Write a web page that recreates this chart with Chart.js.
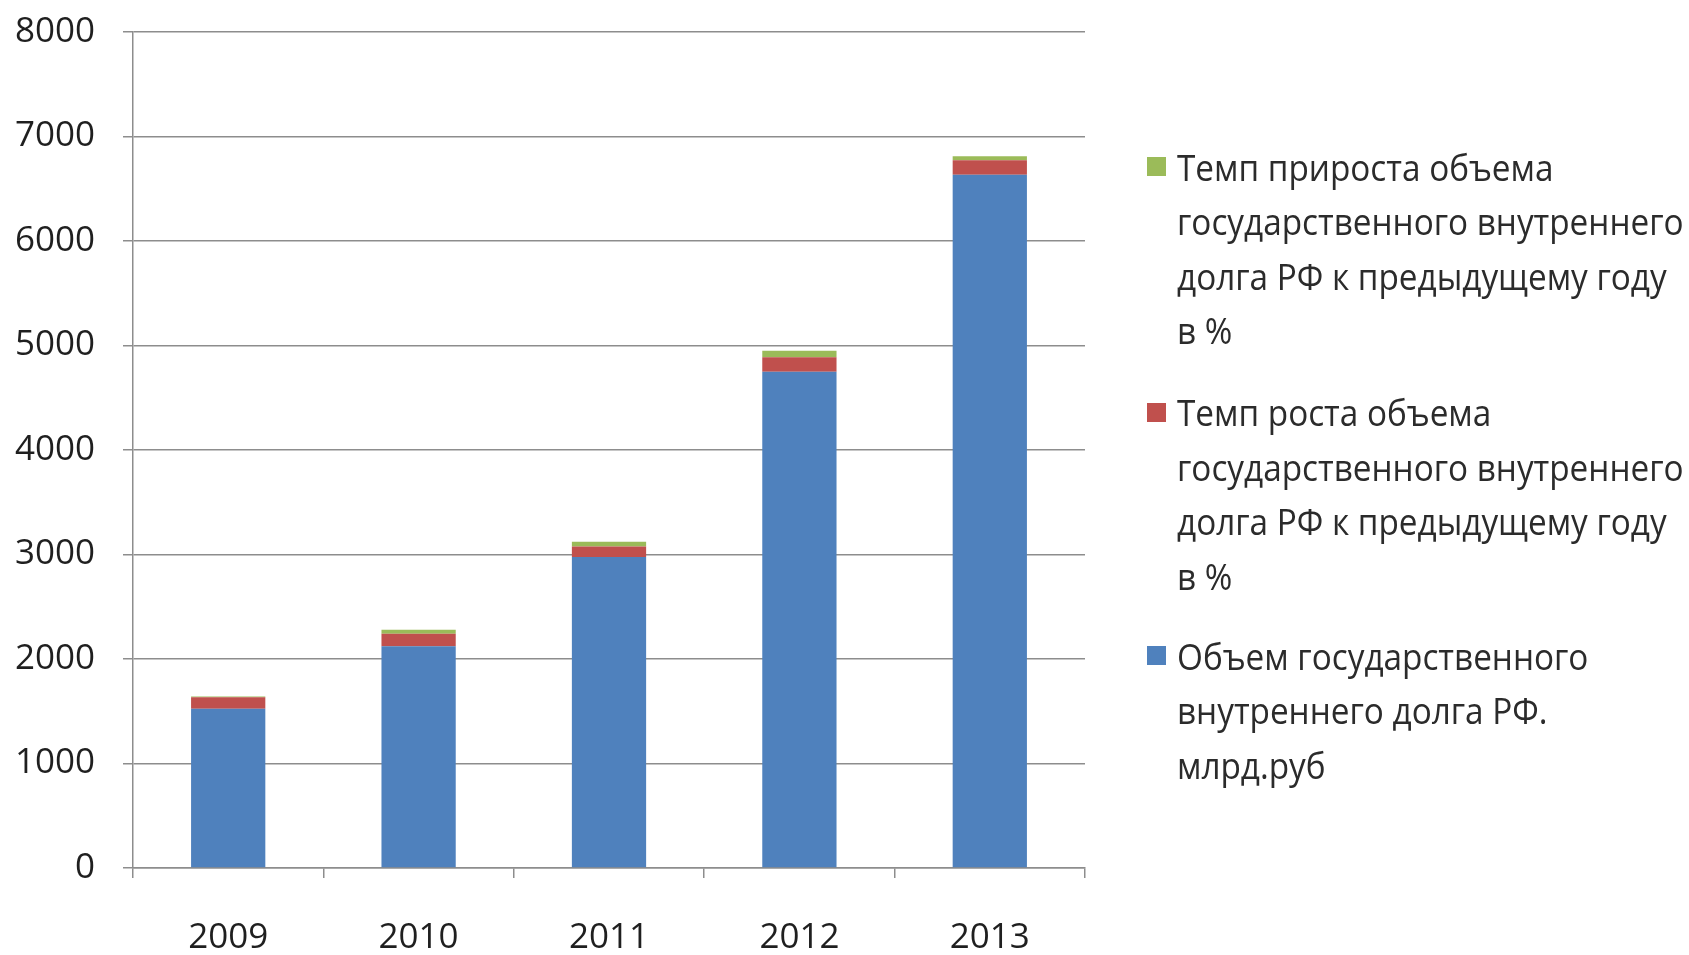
<!DOCTYPE html>
<html>
<head>
<meta charset="utf-8">
<script src="https://cdn.jsdelivr.net/npm/chart.js@4/dist/chart.umd.min.js"></script>
<style>
  html, body { margin: 0; padding: 0; background: #fff; }
  #wrap { position: relative; width: 1689px; height: 955px; }
  #legend { position: absolute; left: 0; top: 0; font-family: "Open Sans", sans-serif; font-size: 37px; color: #2b2b2b; }
  .item { position: absolute; left: 1147px; white-space: pre; line-height: 54.6px; }
  .text { display: block; margin-left: 30px; transform: scaleX(0.9); transform-origin: left top; }
  .box { position: absolute; left: 0; top: 17.8px; width: 19px; height: 19px; }
</style>
</head>
<body>
<div id="wrap">
  <canvas id="chart" width="1689" height="955"></canvas>
  <div id="legend"></div>
</div>
<script>
// years on x axis
const years = ["2009", "2010", "2011", "2012", "2013"];

// debt volume, bln rub (blue, bottom of stack)
const debtVolume = [1525, 2121, 2975, 4750, 6635];
// growth rate, % (red)
const growthRate = [108, 121, 102, 137, 137];
// increase rate, % (green, top)
const increaseRate = [8, 39, 45, 62, 40];

const yTicks = [0, 1000, 2000, 3000, 4000, 5000, 6000, 7000, 8000];

const labelVolume = "Объем государственного\nвнутреннего долга РФ.\nмлрд.руб";
const labelGrowth = "Темп роста объема\nгосударственного внутреннего\nдолга РФ к предыдущему году\nв %";
const labelIncrease = "Темп прироста объема\nгосударственного внутреннего\nдолга РФ к предыдущему году\nв %";

const gridColor = "#8d8d8d";
const tickFont = { family: "Open Sans", size: 35 };

const ctx = document.getElementById("chart");

const chart = new Chart(ctx, {
  type: "bar",
  data: {
    labels: years,
    datasets: [
      { label: labelVolume, data: debtVolume, backgroundColor: "#4f81bd" },
      { label: labelGrowth, data: growthRate, backgroundColor: "#c0504d" },
      { label: labelIncrease, data: increaseRate, backgroundColor: "#9bbb59" },
    ],
  },
  options: {
    responsive: false,
    animation: false,
    layout: { padding: { top: 32, right: 604, bottom: 0, left: 0 } },
    datasets: {
      bar: { barPercentage: 0.39, categoryPercentage: 1, borderWidth: 0 },
    },
    plugins: {
      legend: { display: false },
      tooltip: { enabled: false },
    },
    scales: {
      x: {
        stacked: true,
        grid: {
          display: true,
          drawOnChartArea: false,
          drawTicks: true,
          tickLength: 10,
          color: gridColor,
          lineWidth: 1.5,
        },
        border: { color: gridColor, width: 1.5 },
        ticks: { font: tickFont, color: "#1f1f1f", padding: 39 },
        afterFit: (scale) => { scale.height = 87; },
      },
      y: {
        stacked: true,
        min: 0,
        max: 8000,
        afterBuildTicks: (scale) => { scale.ticks = yTicks.map((v) => ({ value: v })); },
        grid: { color: gridColor, lineWidth: 1.5, tickLength: 10 },
        border: { color: gridColor, width: 1.5 },
        ticks: { font: tickFont, color: "#1f1f1f", padding: 28, callback: (v) => String(v) },
        afterFit: (scale) => {
          scale.width = 133;
          // tick padding would otherwise push the plot top down
          scale.paddingTop = 0;
          scale.paddingBottom = 0;
        },
      },
    },
  },
});

// legend on the right, top to bottom in reverse stack order
const legendTops = [139.7, 385.3, 628.7];
const legendEl = document.getElementById("legend");
chart.data.datasets.slice().reverse().forEach((ds, i) => {
  const item = document.createElement("div");
  item.className = "item";
  item.style.top = legendTops[i] + "px";
  const box = document.createElement("span");
  box.className = "box";
  box.style.background = ds.backgroundColor;
  const text = document.createElement("span");
  text.className = "text";
  text.textContent = ds.label;
  item.appendChild(box);
  item.appendChild(text);
  legendEl.appendChild(item);
});
</script>
</body>
</html>
